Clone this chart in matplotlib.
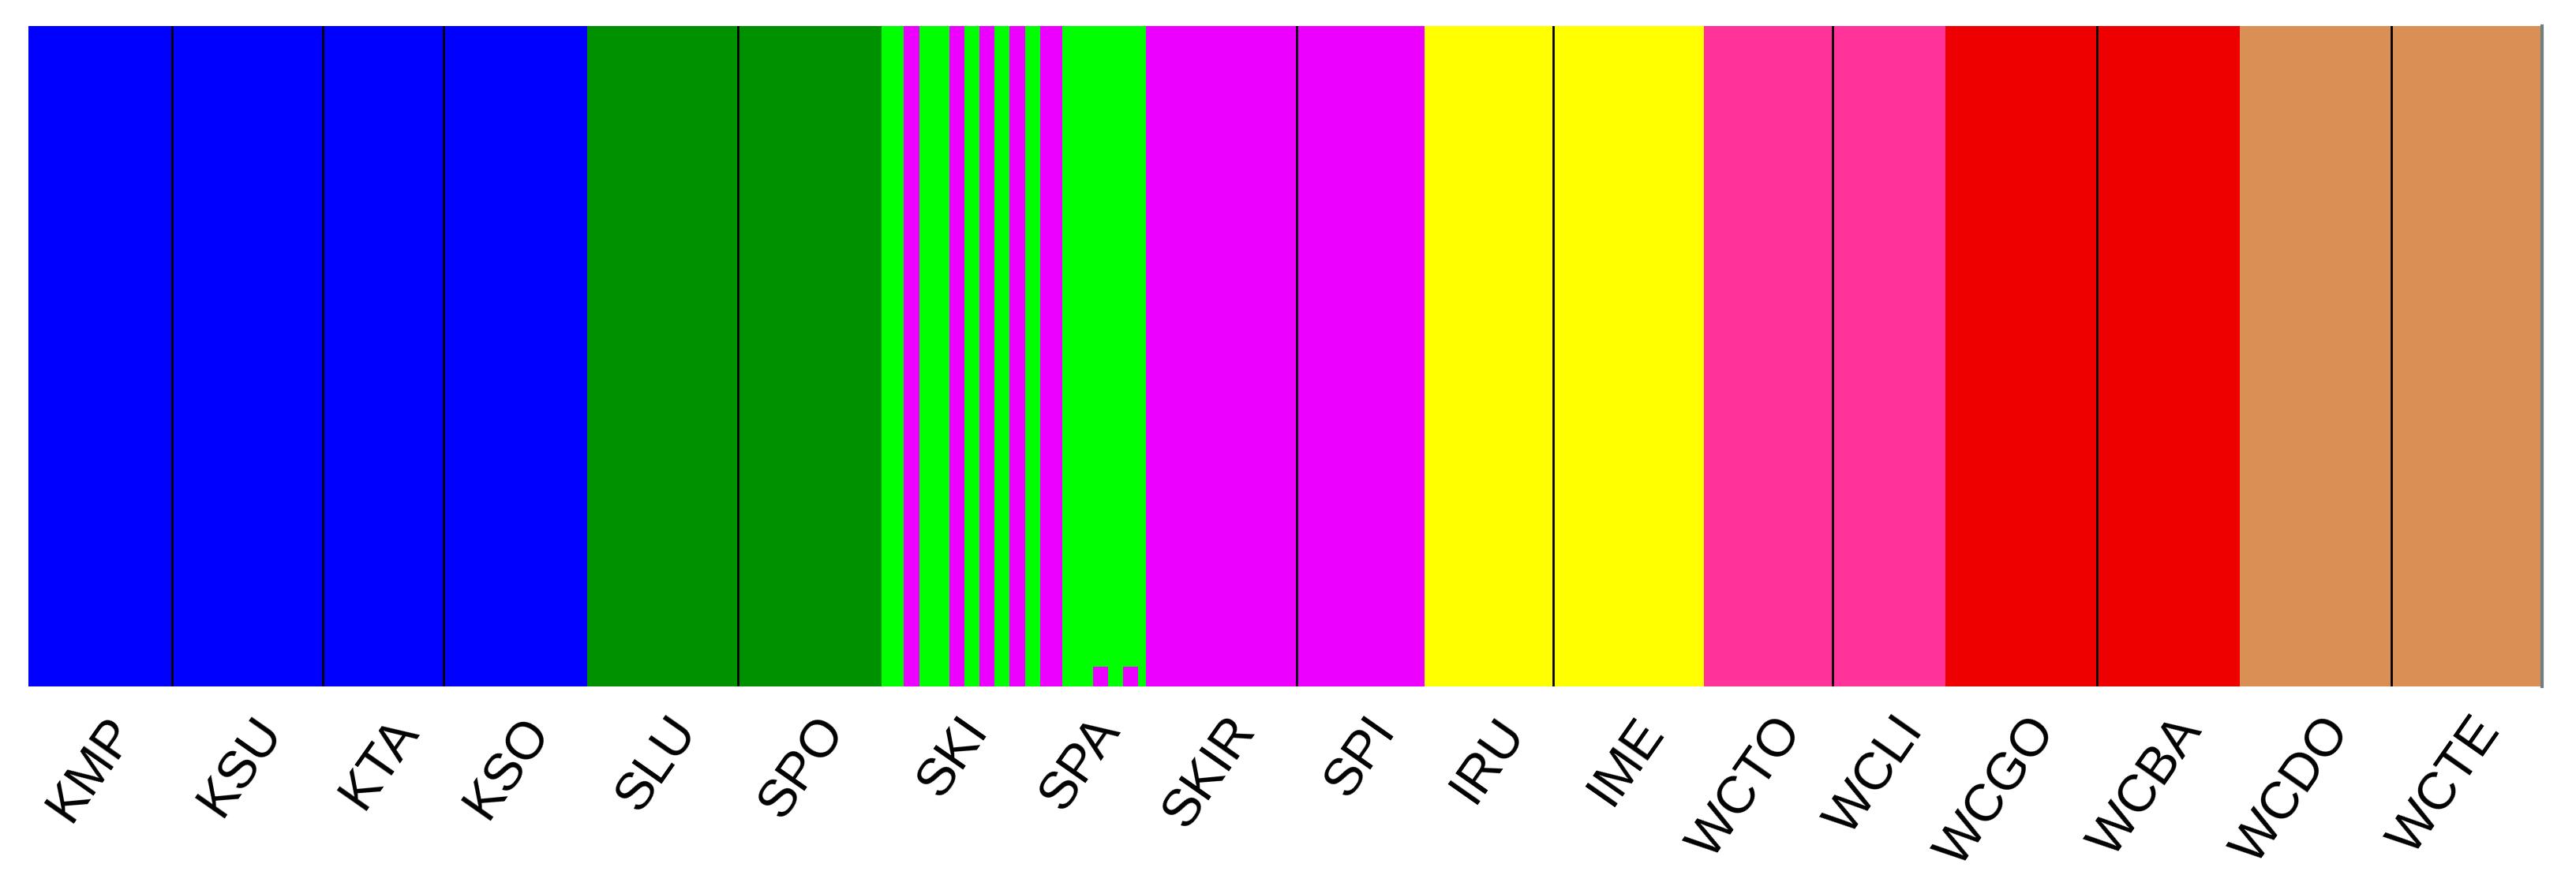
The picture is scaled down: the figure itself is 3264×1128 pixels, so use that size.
import numpy as np
import matplotlib
matplotlib.use("Agg")
import matplotlib.pyplot as plt
from matplotlib.transforms import ScaledTranslation

# ---- data -------------------------------------------------------------
cluster_colors = ["#0000FF", "#009100", "#00FF00", "#EC00FF",
                  "#FFFF00", "#FF3399", "#EE0000", "#DA9055"]

pop_names = ["KMP", "KSU", "KTA", "KSO", "SLU", "SPO", "SKI", "SPA", "SKIR",
             "SPI", "IRU", "IME", "WCTO", "WCLI", "WCGO", "WCBA", "WCDO", "WCTE"]
pop_sizes = [19, 20, 16, 19, 20, 19, 19, 16, 20,
             17, 17, 20, 17, 15, 20, 19, 20, 20]
pop_cluster = [0, 0, 0, 0, 1, 1, 2, 2, 3,
               3, 4, 4, 5, 5, 6, 6, 7, 7]

# admixed populations: fraction of the magenta cluster per individual
ski_magenta = [0, 0, 0, 1, 1, 0, 0, 0, 0, 1, 1, 0, 0, 1, 1, 0, 0, 1, 1]
spa_magenta = [0, 0, 1, 1, 1, 0, 0, 0, 0, 0.03, 0.03, 0, 0, 0.03, 0.03, 0]

separator_after = ["KMP", "KSU", "KTA", "SLU", "SKIR", "IRU", "WCTO", "WCGO", "WCDO"]

# ---- membership matrix -------------------------------------------------
K = len(cluster_colors)
mixes = {"SKI": ski_magenta, "SPA": spa_magenta}
rows = []
for name, n, c in zip(pop_names, pop_sizes, pop_cluster):
    mix = mixes.get(name)
    for i in range(n):
        q = np.zeros(K)
        if mix is None:
            q[c] = 1.0
        else:
            q[3] = mix[i]
            q[2] = 1.0 - mix[i]
        rows.append(q)
Q = np.array(rows)
N = Q.shape[0]

# ---- figure ------------------------------------------------------------
W, H, DPI = 3264, 1128, 100
fig = plt.figure(figsize=(W / DPI, H / DPI), dpi=DPI)
ax = fig.add_axes([36 / W, 1 - 870 / H, (3221 - 36) / W, (870 - 33) / H])

x = np.arange(N)
order = np.argsort(Q, axis=1, kind="stable")
bottoms = np.zeros(N)
for r in range(K):
    k = order[:, r]
    h = Q[x, k]
    m = h > 0
    ax.bar(x[m], h[m], bottom=bottoms[m], width=1.0, align="edge",
           color=[cluster_colors[j] for j in k[m]], linewidth=0,
           antialiased=False)
    bottoms += h

edges = np.concatenate([[0], np.cumsum(pop_sizes)])
for name, e in zip(pop_names, edges[1:]):
    if name in separator_after:
        ax.axvline(e, color="black", lw=2.0, zorder=3)
ax.axvline(N, color="#6f8080", lw=3.0, zorder=3, clip_on=False)

centers = (edges[:-1] + edges[1:]) / 2
ax.set_xlim(0, N)
ax.set_ylim(0, 1)
ax.set_yticks([])
ax.set_xticks(centers)
ax.set_xticklabels(pop_names, rotation=55, ha="right", va="center",
                   rotation_mode="anchor", fontsize=48,
                   fontfamily="Liberation Sans")
ax.tick_params(axis="x", length=0, pad=33)
off = ScaledTranslation(31 / DPI, 0, fig.dpi_scale_trans)
for lbl in ax.get_xticklabels():
    lbl.set_transform(lbl.get_transform() + off)
for s in ax.spines.values():
    s.set_visible(False)

fig.savefig("out.png", dpi=DPI, facecolor="white")
